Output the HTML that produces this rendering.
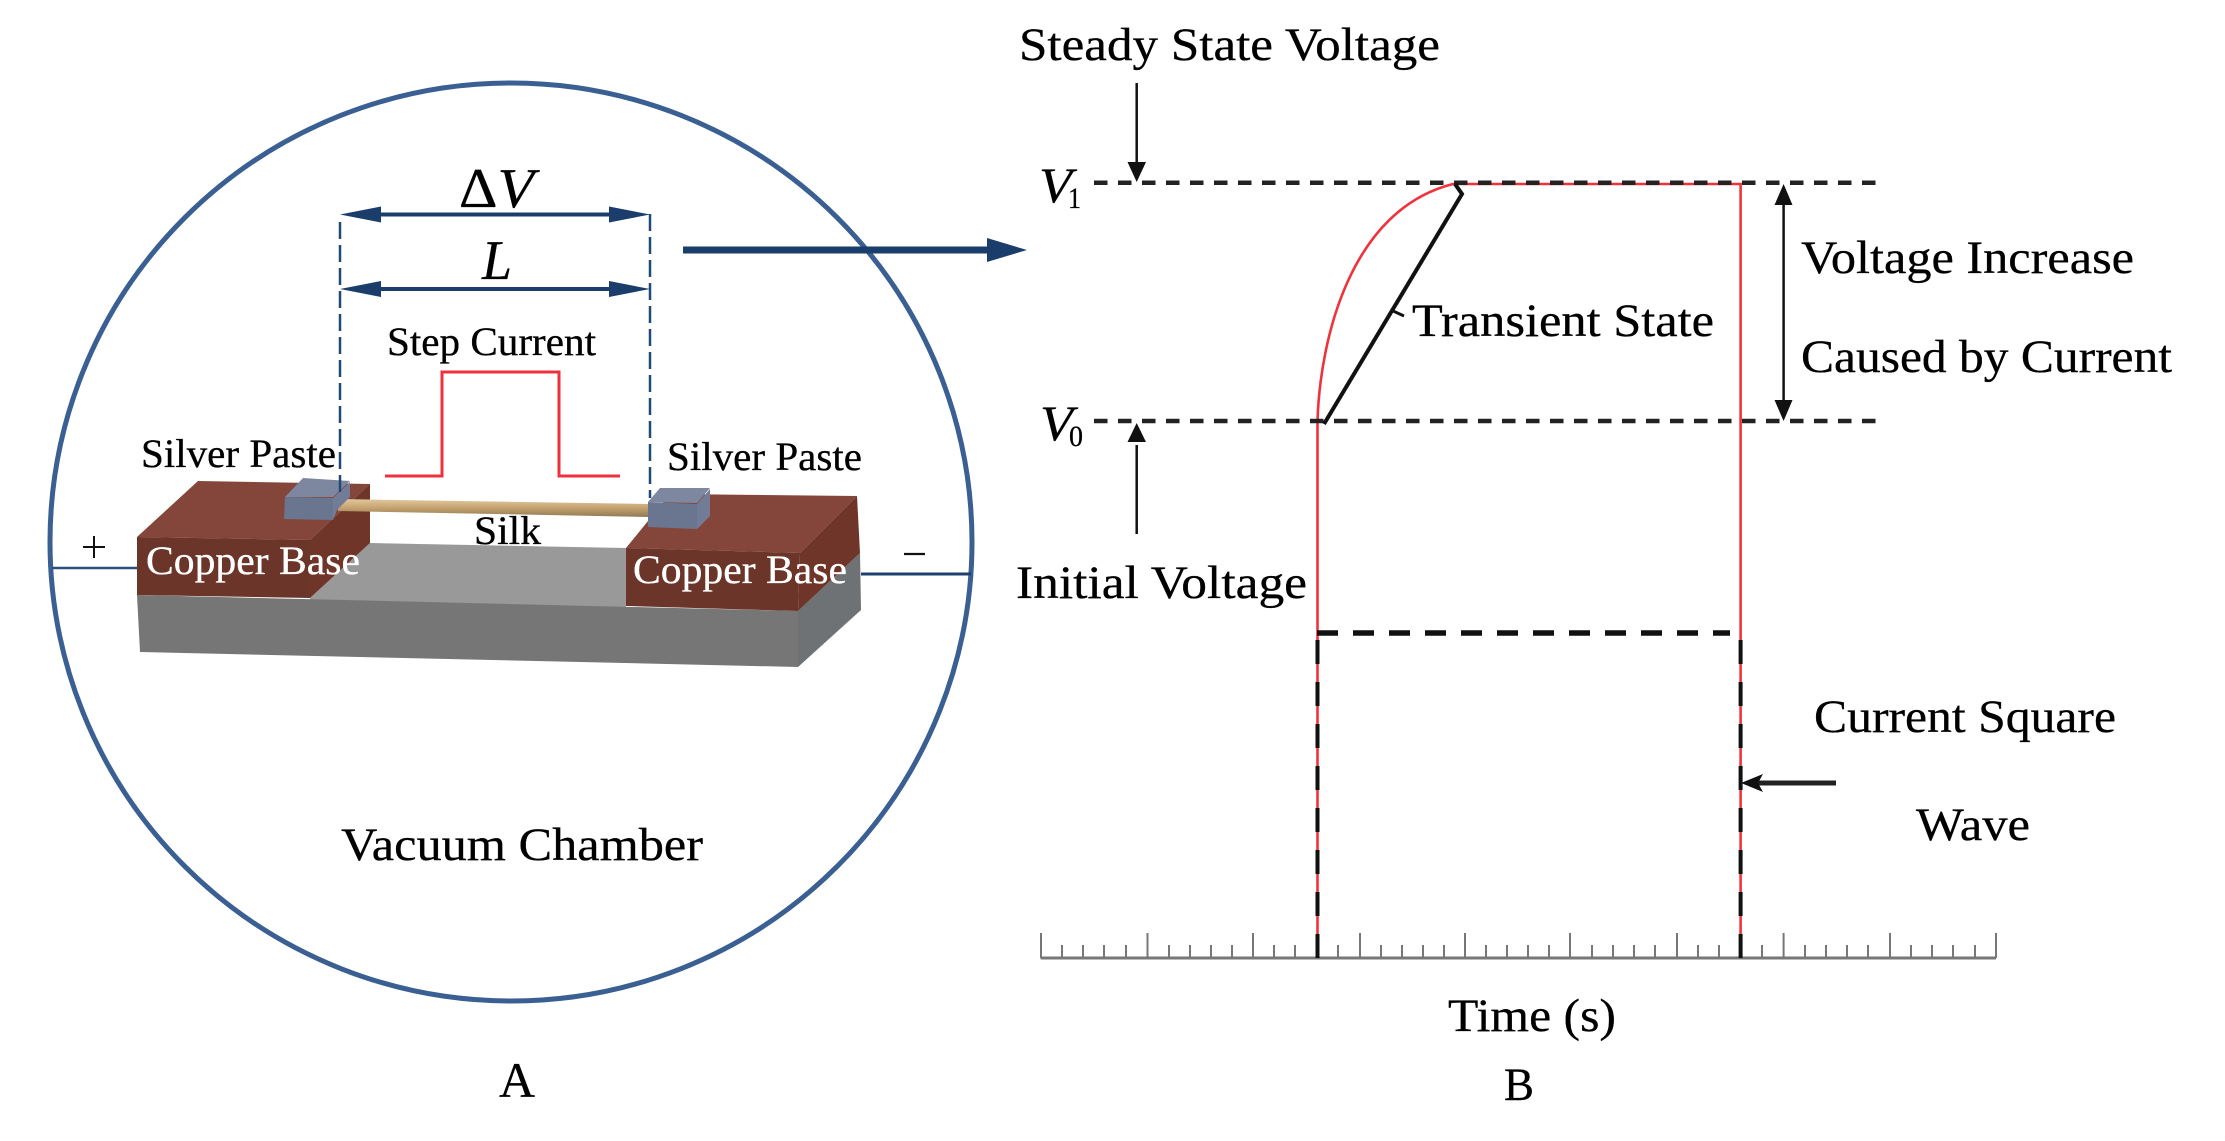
<!DOCTYPE html>
<html><head><meta charset="utf-8"><style>
html,body{margin:0;padding:0;background:#fff;width:2225px;height:1141px;overflow:hidden}
svg{display:block}
text{font-family:"Liberation Serif",serif;fill:#000;stroke:#000;stroke-width:.3}
</style></head><body>
<svg width="2225" height="1141" viewBox="0 0 2225 1141" xmlns="http://www.w3.org/2000/svg">
<defs>
<linearGradient id="silk" x1="0" y1="0" x2="0" y2="1"><stop offset="0" stop-color="#e2c9a0"/><stop offset=".5" stop-color="#c5a26e"/><stop offset="1" stop-color="#8f7a55"/></linearGradient>
</defs>
<rect width="2225" height="1141" fill="#fff"/>
<!-- Panel A -->
<ellipse cx="511" cy="542" rx="461" ry="459" fill="none" stroke="#3a5f92" stroke-width="5"/>
<path d="M52 568H139" stroke="#2c4f7e" stroke-width="2.5"/>
<path d="M861 574H971" stroke="#1f3f6b" stroke-width="3"/>
<!-- base -->
<polygon points="370,543 626,548 626,620 310,620 310,598" fill="#999"/>
<polygon points="137,595 798,611 798,667 140,652" fill="#767676"/>
<polygon points="798,611 860,553 861,610 798,667" fill="#6e7274"/>
<!-- left copper -->
<polygon points="137,537 198,481 370,484 310,540" fill="#84463a"/>
<polygon points="137,537 310,540 310,598 137,595" fill="#6b3529"/>
<polygon points="310,540 370,484 370,543 310,598" fill="#6f3528"/>
<!-- right copper -->
<polygon points="626,548 670,494 857,496 800,553" fill="#84463a"/>
<polygon points="626,548 800,553 798,611 626,606" fill="#6b3529"/>
<polygon points="800,553 857,496 860,553 798,611" fill="#6f3528"/>
<!-- silk -->
<polygon points="338,499 648,504 648,517 338,511" fill="url(#silk)"/>
<!-- silver blocks -->
<polygon points="303,478 350,481 333,497 285,497" fill="#7d87a0"/>
<polygon points="285,497 333,498 333,520 284,519" fill="#6a7590"/>
<polygon points="333,498 350,482 350,497 337,510 333,520" fill="#737c96"/>
<polygon points="660,488 710,488 697,503 648,502" fill="#7d87a0"/>
<polygon points="648,502 697,504 697,529 648,527" fill="#6a7590"/>
<polygon points="697,504 710,489 710,516 697,529" fill="#737c96"/>
<!-- dims -->
<g stroke="#1f4a78" stroke-width="2.5" stroke-dasharray="17 6" fill="none">
<path d="M340 222V498"/><path d="M650 214V498"/>
</g>
<g fill="#1a3d6b">
<rect x="375" y="212.5" width="240" height="4"/>
<polygon points="340,214.5 381,206.5 381,222.5"/><polygon points="650,214.5 609,206.5 609,222.5"/>
<rect x="375" y="287" width="240" height="4"/>
<polygon points="340,289 381,281 381,297"/><polygon points="650,289 609,281 609,297"/>
<rect x="683" y="246.5" width="310" height="7"/>
<polygon points="1027,250 987,238 987,262"/>
</g>
<polyline points="385,476 442,476 442,372 559,372 559,476 620,476" fill="none" stroke="#f0303c" stroke-width="3"/>
<!-- Panel A text -->
<text x="459" y="207" font-size="56" textLength="75" lengthAdjust="spacingAndGlyphs">Δ<tspan font-style="italic">V</tspan></text>
<text x="482" y="279" font-size="56" font-style="italic" textLength="30" lengthAdjust="spacingAndGlyphs">L</text>
<text x="387" y="355" font-size="40" textLength="209" lengthAdjust="spacingAndGlyphs">Step Current</text>
<text x="141" y="467" font-size="40" textLength="195" lengthAdjust="spacingAndGlyphs">Silver Paste</text>
<text x="667" y="470" font-size="40" textLength="195" lengthAdjust="spacingAndGlyphs">Silver Paste</text>
<text x="474" y="544" font-size="40" textLength="67" lengthAdjust="spacingAndGlyphs">Silk</text>
<text x="146" y="574" font-size="40" textLength="214" lengthAdjust="spacingAndGlyphs" style="fill:#fff;stroke:#fff">Copper Base</text>
<text x="633" y="583" font-size="40" textLength="214" lengthAdjust="spacingAndGlyphs" style="fill:#fff;stroke:#fff">Copper Base</text>
<path d="M83 547H105M94 536V558" stroke="#111" stroke-width="2" fill="none"/>
<path d="M904 554H925" stroke="#111" stroke-width="2.2"/>
<text x="341" y="860" font-size="47" textLength="362" lengthAdjust="spacingAndGlyphs">Vacuum Chamber</text>
<text x="499" y="1097" font-size="50" textLength="36" lengthAdjust="spacingAndGlyphs">A</text>
<!-- ruler -->
<path d="M1040.6 958H1996" stroke="#777" stroke-width="3"/>
<path d="M1041 933V958M1147.5 933V958M1253 933V958M1360 933V958M1465 933V958M1570 933V958M1677 933V958M1783.6 933V958M1890 933V958M1996 933V958" stroke="#777" stroke-width="2" fill="none"/>
<path d="M1062 945V958M1083 945V958M1104 945V958M1126 945V958M1169 945V958M1190 945V958M1211 945V958M1232 945V958M1274 945V958M1295 945V958M1317 945V958M1338 945V958M1381 945V958M1402 945V958M1423 945V958M1444 945V958M1486 945V958M1507 945V958M1528 945V958M1549 945V958M1592 945V958M1613 945V958M1634 945V958M1655 945V958M1698 945V958M1719 945V958M1741 945V958M1762 945V958M1805 945V958M1826 945V958M1847 945V958M1868 945V958M1911 945V958M1932 945V958M1953 945V958M1975 945V958" stroke="#777" stroke-width="2" fill="none"/>
<!-- red curve -->
<path d="M1317.5 958V421C1320 340 1350 210 1453 184H1740.6V958" fill="none" stroke="#f0323c" stroke-width="2.6"/>
<!-- V dash lines -->
<g stroke="#222" stroke-width="4.5" stroke-dasharray="13.5 10.5" fill="none">
<path d="M1094 182.7H1881"/><path d="M1094 421H1881"/>
</g>
<!-- Transient black -->
<path d="M1324 424L1462 194L1455 184" fill="none" stroke="#111" stroke-width="4"/>
<path d="M1391 310L1404 316" stroke="#111" stroke-width="3"/>
<!-- Current square -->
<path d="M1317 633H1730" stroke="#111" stroke-width="5.5" stroke-dasharray="21 15" fill="none"/>
<g stroke="#111" stroke-width="4" stroke-dasharray="24 18" fill="none">
<path d="M1317.5 640V958"/><path d="M1740.6 640V958"/>
</g>
<!-- black arrows -->
<path d="M1136.7 83V165M1136.7 445V534" stroke="#111" stroke-width="2.5" fill="none"/>
<polygon points="1136.7,182 1127.5,162 1146,162" fill="#111"/>
<polygon points="1136.7,423 1127.5,442 1146,442" fill="#111"/>
<path d="M1783.6 200V405" stroke="#111" stroke-width="2.5"/>
<polygon points="1783.6,184 1774.5,205 1792.5,205" fill="#111"/>
<polygon points="1783.6,421 1774.5,400 1792.5,400" fill="#111"/>
<path d="M1758 783H1836" stroke="#222" stroke-width="5"/>
<polygon points="1741,783 1763,774 1758,783 1763,792" fill="#111"/>
<!-- Panel B text -->
<text x="1019" y="60" font-size="47" textLength="421" lengthAdjust="spacingAndGlyphs">Steady State Voltage</text>
<text x="1039" y="202" font-size="50" font-style="italic" textLength="33" lengthAdjust="spacingAndGlyphs">V</text>
<text x="1068" y="208" font-size="30" textLength="13" lengthAdjust="spacingAndGlyphs">1</text>
<text x="1040" y="440" font-size="50" font-style="italic" textLength="33" lengthAdjust="spacingAndGlyphs">V</text>
<text x="1069" y="446" font-size="30" textLength="14" lengthAdjust="spacingAndGlyphs">0</text>
<text x="1412" y="336" font-size="47" textLength="302" lengthAdjust="spacingAndGlyphs">Transient State</text>
<text x="1801" y="273" font-size="47" textLength="333" lengthAdjust="spacingAndGlyphs">Voltage Increase</text>
<text x="1801" y="372" font-size="47" textLength="371" lengthAdjust="spacingAndGlyphs">Caused by Current</text>
<text x="1016" y="598" font-size="47" textLength="291" lengthAdjust="spacingAndGlyphs">Initial Voltage</text>
<text x="1814" y="732" font-size="47" textLength="302" lengthAdjust="spacingAndGlyphs">Current Square</text>
<text x="1916" y="840" font-size="47" textLength="114" lengthAdjust="spacingAndGlyphs">Wave</text>
<text x="1448" y="1031" font-size="47" textLength="168" lengthAdjust="spacingAndGlyphs">Time (s)</text>
<text x="1504" y="1100" font-size="47" textLength="30" lengthAdjust="spacingAndGlyphs">B</text>
</svg>
</body></html>
